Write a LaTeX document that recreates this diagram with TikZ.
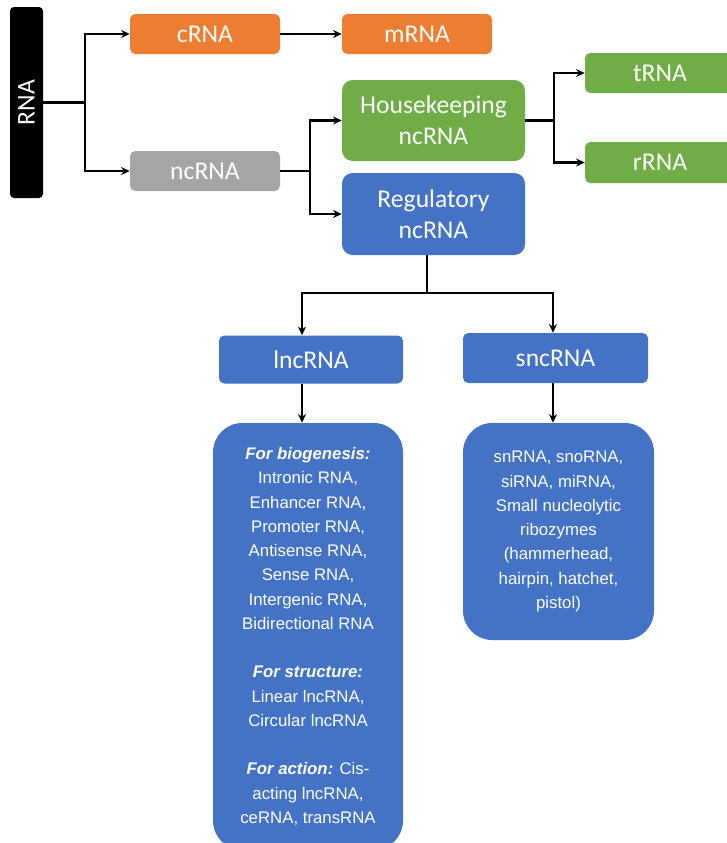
\documentclass[tikz,border=0pt]{standalone}
\usepackage{fontspec}
\setmainfont{Carlito}
\newfontfamily\arialfont{Liberation Sans}
\usetikzlibrary{arrows.meta}
\definecolor{cOrange}{HTML}{ED7D31}
\definecolor{cGray}{HTML}{A5A5A5}
\definecolor{cGreen}{HTML}{70AD47}
\definecolor{cBlue}{HTML}{4472C4}
\tikzset{
  boxbase/.style={inner sep=0pt, text=white, align=center, font=\fontsize{19.2}{23.5}\selectfont, rounded corners=4pt},
  orangebox/.style={boxbase, fill=cOrange, minimum width=112.5pt, minimum height=30pt},
  graybox/.style={boxbase, fill=cGray, minimum width=112.5pt, minimum height=30pt},
  greenbox/.style={boxbase, fill=cGreen},
  bluebox/.style={boxbase, fill=cBlue},
  bigbox/.style={inner sep=0pt, text=white, align=center, fill=cBlue, rounded corners=22pt,
     font=\arialfont\fontsize{12.6}{18.2}\selectfont},
  conn/.style={draw=black, line width=1.6pt},
  arr/.style={conn, -{Stealth[length=6.5pt,width=6pt]}}
}
\newcommand{\hdtxt}[1]{{\bfseries\itshape #1}}
\begin{document}
\begin{tikzpicture}[x=0.75pt,y=-0.75pt]
\clip (0,0) rectangle (727,843);
\fill[white] (0,0) rectangle (727,843);

% RNA (rotated)
\node[boxbase, fill=black, rounded corners=3pt, rotate=90, minimum width=143.25pt, minimum height=24.75pt] (rna) at (26.5,102.5) {RNA};

\node[orangebox] (crna) at (205,34) {cRNA};
\node[orangebox] (mrna) at (417,34) {mRNA};
\node[graybox] (ncrna) at (205,171) {ncRNA};

\node[greenbox, rounded corners=8pt, minimum width=137.25pt, minimum height=60.75pt] (hk) at (433.5,120.5) {Housekeeping\\ncRNA};
\node[bluebox, rounded corners=8pt, minimum width=137.25pt, minimum height=61.5pt] (reg) at (433.5,214) {Regulatory\\ncRNA};

\node[greenbox, minimum width=112.5pt, minimum height=30pt] (trna) at (660,73) {tRNA};
\node[greenbox, minimum width=112.5pt, minimum height=30.75pt] (rrna) at (660,162.5) {rRNA};

\node[bluebox, minimum width=138pt, minimum height=36pt] (lnc) at (311,359.5) {lncRNA};
\node[bluebox, minimum width=138.75pt, minimum height=37.5pt] (snc) at (555.5,358) {sncRNA};

\node[bigbox, minimum width=142.5pt, minimum height=320.25pt] (lbig) at (308,636.5) {%
\hdtxt{For biogenesis:}\\
Intronic RNA,\\
Enhancer RNA,\\
Promoter RNA,\\
Antisense RNA,\\
Sense RNA,\\
Intergenic RNA,\\
Bidirectional RNA\\[18.2pt]
\hdtxt{For structure:}\\
Linear lncRNA,\\
Circular lncRNA\\[18.2pt]
\hdtxt{For action:} Cis-\\
acting lncRNA,\\
ceRNA, transRNA};

\node[bigbox, minimum width=143.25pt, minimum height=162.75pt] (sbig) at (558.5,531.5) {%
snRNA, snoRNA,\\
siRNA, miRNA,\\
Small nucleolytic\\
ribozymes\\
(hammerhead,\\
hairpin, hatchet,\\
pistol)};

% junctions
\coordinate (j1) at (85,102.5);
\coordinate (j2) at (310,171);
\coordinate (j3) at (554,120.5);
\coordinate (j4) at (427,293);
\coordinate (a1) at (302,293);
\coordinate (a2) at (553,293);

\draw[conn] (rna.south) -- (j1);
\draw[arr] (j1) |- (crna.west);
\draw[arr] (j1) |- (ncrna.west);
\draw[arr] (crna.east) -- (mrna.west);

\draw[conn] (ncrna.east) -- (j2);
\draw[arr] (j2) |- (hk.west);
\draw[arr] (j2) |- (reg.west);

\draw[conn] (hk.east) -- (j3);
\draw[arr] (j3) |- (trna.west);
\draw[arr] (j3) |- (rrna.west);

\draw[conn] (reg.south -| j4) -- (j4);
\draw[arr] (j4) -- (a1) -- (a1 |- lnc.north);
\draw[arr] (j4) -- (a2) -- (a2 |- snc.north);

\draw[arr] (lnc.south -| a1) -- (a1 |- lbig.north);
\draw[arr] (snc.south -| a2) -- (a2 |- sbig.north);
\end{tikzpicture}
\end{document}
